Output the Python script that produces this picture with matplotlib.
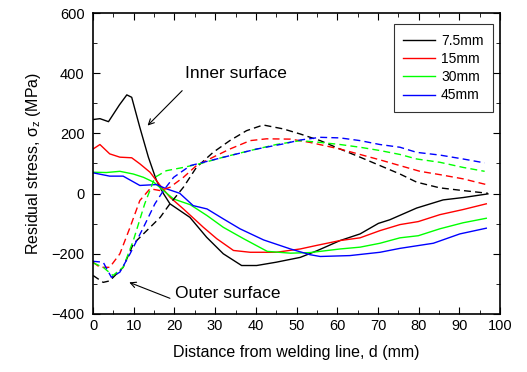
import matplotlib
matplotlib.use('Agg')
from matplotlib import pyplot as plt
from matplotlib.ticker import MultipleLocator

plt.rcParams['font.family'] = ['Liberation Sans', 'DejaVu Sans']
plt.rcParams['mathtext.fontset'] = 'custom'
plt.rcParams['mathtext.rm'] = 'Liberation Sans'
plt.rcParams['mathtext.it'] = 'Liberation Sans'

# inner surface (solid)
d_k_in = [0, 1.7, 3.8, 6.5, 8.3, 9.5, 11.5, 13.6, 15.6, 17.3, 18.9, 23.8, 27.9, 32, 36.5, 40.2, 45, 50.9, 55, 60.7, 65.6, 70.1, 72.9, 79.5, 86, 91, 97]
s_k_in = [246, 249, 239, 295, 328, 320, 220, 121, 43, 0, -34, -79, -145, -200, -239, -239, -228, -212, -190, -156, -134, -99, -87, -48, -21, -13, -1]
d_r_in = [0, 1.7, 4.1, 6.6, 9.5, 11.5, 14, 16.5, 18.9, 22.2, 27.1, 30.4, 34.5, 38.6, 45, 50.9, 55, 60.7, 65.6, 70.5, 75.4, 79.9, 85.2, 90.9, 96.6]
s_r_in = [148, 163, 132, 121, 119, 99, 71, 27, -12, -51, -112, -150, -189, -195, -195, -184, -172, -156, -147, -123, -103, -93, -70, -53, -34]
d_g_in = [0, 3.3, 6.6, 9.9, 12.4, 14.9, 17.3, 19.8, 23.9, 28, 32, 37, 42.8, 48.5, 53.3, 60.7, 65.6, 70.5, 75.4, 79.9, 85.2, 90.9, 96.6]
s_g_in = [71, 70, 74, 65, 54, 38, 10, -18, -37, -73, -112, -150, -192, -198, -196, -184, -178, -165, -147, -140, -117, -97, -82]
d_b_in = [0, 4.1, 7.4, 11.5, 15.6, 18, 21.3, 24.6, 28, 32, 36.1, 41.9, 48.5, 53.3, 55.8, 63.1, 70.5, 75.4, 83.6, 90.1, 96.6]
s_b_in = [69, 58, 58, 27, 30, 16, 1, -40, -51, -84, -117, -154, -184, -203, -209, -206, -195, -182, -165, -134, -115]

# outer surface (dashed)
d_k_out = [0, 2.5, 4.1, 7.4, 9.9, 13.2, 16.5, 18.9, 22.2, 25.4, 29.5, 33.6, 37.7, 41.8, 46.7, 50.9, 55.8, 60.7, 65.6, 70.5, 75.4, 79.5, 85.2, 90.9, 97]
s_k_out = [-272, -295, -290, -245, -167, -123, -79, -34, 21, 87, 137, 176, 209, 228, 215, 198, 176, 148, 121, 93, 65, 38, 19, 10, 1]
d_r_out = [0, 1.7, 4.1, 6.6, 9.1, 11.5, 14, 16.5, 18.9, 22.2, 25.4, 29.5, 33.6, 38.6, 42.6, 48.5, 53.3, 60.7, 65.6, 70.5, 75.4, 80.3, 85.2, 90.9, 96.6]
s_r_out = [-228, -245, -245, -200, -112, -23, 16, 10, 21, 54, 93, 121, 148, 176, 182, 181, 170, 148, 130, 112, 93, 74, 63, 49, 30]
d_g_out = [0, 2.5, 4.9, 7.4, 9.9, 12.7, 15.2, 18, 22.2, 26.2, 32, 38.6, 45, 50.9, 55.8, 60.7, 65.6, 70.5, 75.4, 79.5, 85.2, 90.9, 96.2]
s_g_out = [-230, -245, -272, -245, -156, -34, 54, 76, 87, 99, 121, 143, 163, 176, 170, 163, 154, 143, 130, 115, 104, 87, 74]
d_b_out = [0, 2.5, 4.5, 6.6, 9.1, 12.4, 15.2, 17.3, 19.8, 23.9, 28, 33.6, 40.2, 46.7, 50.9, 55.8, 60.7, 65.6, 70.5, 75.4, 79.5, 85.2, 90.9, 96.2]
s_b_out = [-225, -228, -278, -261, -200, -112, -34, 10, 54, 93, 107, 126, 148, 165, 178, 187, 185, 176, 163, 154, 137, 128, 115, 102]

fig = plt.figure(figsize=(5.27, 3.72), dpi=100)
ax = fig.add_axes([0.1765, 0.156, 0.7725, 0.809])

ax.plot(d_k_in, s_k_in, color='black', lw=1, label='7.5mm')
ax.plot(d_r_in, s_r_in, color='red', lw=1, label='15mm')
ax.plot(d_g_in, s_g_in, color='#00ff00', lw=1, label='30mm')
ax.plot(d_b_in, s_b_in, color='blue', lw=1, label='45mm')
ax.plot(d_k_out, s_k_out, color='black', lw=1, ls=(0, (5, 3)))
ax.plot(d_r_out, s_r_out, color='red', lw=1, ls=(0, (5, 3)))
ax.plot(d_g_out, s_g_out, color='#00ff00', lw=1, ls=(0, (5, 3)))
ax.plot(d_b_out, s_b_out, color='blue', lw=1, ls=(0, (5, 3)))

ax.set_xlim(0, 100)
ax.set_ylim(-400, 600)
ax.xaxis.set_major_locator(MultipleLocator(10))
ax.xaxis.set_minor_locator(MultipleLocator(5))
ax.yaxis.set_major_locator(MultipleLocator(200))
ax.yaxis.set_minor_locator(MultipleLocator(100))
ax.tick_params(which='both', direction='in', top=True, right=True, labelsize=10.5)
ax.tick_params(which='major', length=5)
ax.tick_params(which='minor', length=3)
ax.tick_params(axis='y', pad=6)
for s in ax.spines.values():
    s.set_linewidth(1.2)

ax.set_xlabel('Distance from welding line, d (mm)', fontsize=11.5, labelpad=9)
ax.set_ylabel(r'Residual stress, $\sigma_z$ (MPa)', fontsize=11.5, labelpad=6)

ax.text(35, 398, 'Inner surface', fontsize=12.5, ha='center', va='center')
ax.annotate('', xy=(13.4, 226), xytext=(21.9, 342),
            arrowprops=dict(arrowstyle='->', color='black', lw=0.8, shrinkA=0, shrinkB=0))
ax.text(33.2, -332, 'Outer surface', fontsize=12.5, ha='center', va='center')
ax.annotate('', xy=(8.9, -295), xytext=(18.9, -348),
            arrowprops=dict(arrowstyle='->', color='black', lw=0.8, shrinkA=0, shrinkB=0))

leg = ax.legend(loc='upper right', bbox_to_anchor=(0.983, 0.963), borderaxespad=0,
                fontsize=10, frameon=True, fancybox=False, edgecolor='black',
                handlelength=2.3, labelspacing=0.3, borderpad=0.7, handletextpad=0.4)
leg.get_frame().set_linewidth(0.8)

fig.savefig('out.png', dpi=100)
